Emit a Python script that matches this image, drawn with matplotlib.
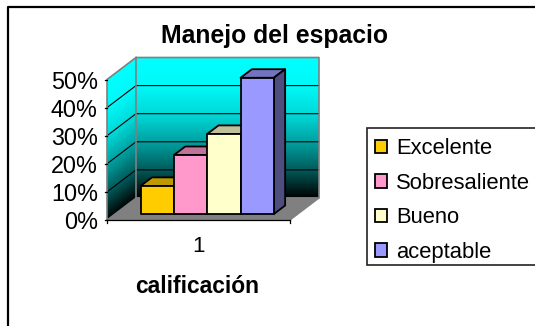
import matplotlib
matplotlib.use("Agg")
import matplotlib.pyplot as plt
from matplotlib.patches import Patch, Polygon, Rectangle
import numpy as np

plt.rcParams["font.family"] = ["Liberation Sans", "DejaVu Sans"]

names = ["Excelente", "Sobresaliente", "Bueno", "aceptable"]
values = [10, 21, 28.5, 48.5]
front_colors = ["#FFCC00", "#FF99CC", "#FFFFCC", "#9999FF"]
top_colors = ["#BF9900", "#BF7399", "#BFBF99", "#7373BF"]
side_colors = ["#806600", "#804D66", "#808066", "#4D4D80"]
yticks = [0, 10, 20, 30, 40, 50]
category = "1"

W, H = 535, 326
DEPTH_X = 29 / 183  # shift of the back wall, in x axis units
DEPTH_Y = 50 * 22 / 140.5  # same, in percent


def proj(x, y, d):
    return x + d * DEPTH_X, y + d * DEPTH_Y


fig = plt.figure(figsize=(W / 100, H / 100), dpi=100)
ax = fig.add_axes([107 / W, 1 - 220 / H, 183 / W, 140.5 / H])
ax.set_xlim(0, 1)
ax.set_ylim(0, 50)
ax.axis("off")

# walls, black at the bottom up to cyan
n = 141
vv = np.linspace(0, 50, n)
dd = np.array([0, 1])
cmap = matplotlib.colors.LinearSegmentedColormap.from_list(
    "wall", [(0, "#000000"), (0.2, "#005A5A"), (0.4, "#00A0A0"), (0.6, "#00D8D8"), (0.8, "#00F8F8"), (1, "#00FFFF")])
C = ((vv[:-1] + vv[1:]) / 2).reshape(-1, 1)
X = np.outer(np.ones(n), [0, 1]) + DEPTH_X
Y = np.outer(vv, [1, 1]) + DEPTH_Y
ax.pcolormesh(X, Y, C, cmap=cmap, vmin=0, vmax=50, shading="flat", clip_on=False, zorder=1)
X2 = np.outer(np.ones(n), dd) * DEPTH_X
Y2 = np.outer(vv, [1, 1]) + np.outer(np.ones(n), dd) * DEPTH_Y
ax.pcolormesh(X2, Y2, C, cmap=cmap, vmin=0, vmax=50, shading="flat", clip_on=False, zorder=1)

# floor
floor = [proj(0, 0, 0), proj(1, 0, 0), proj(1, 0, 1), proj(0, 0, 1)]
ax.add_patch(Polygon(floor, fc="#808080", ec="#808080", lw=1, clip_on=False, zorder=2))

# wall outline and gridlines
for t in yticks[1:-1]:
    xs, ys = zip(proj(0, t, 0), proj(0, t, 1), proj(1, t, 1))
    ax.plot(xs, ys, color="black", lw=0.8, clip_on=False, zorder=3)
xs, ys = zip(proj(0, 0, 0), proj(0, 50, 0), proj(0, 50, 1), proj(1, 50, 1), proj(1, 0, 1), proj(0, 0, 1), proj(0, 50, 1))
ax.plot(xs, ys, color="#808080", lw=1.2, clip_on=False, zorder=3)

# axis lines and tick marks
ax.plot([0, 1], [0, 0], color="black", lw=0.9, clip_on=False, zorder=4)
ax.plot([1, 1], [0, -1.2], color="black", lw=0.9, clip_on=False, zorder=4)
ax.plot([0, 0], [0, -1.2], color="black", lw=0.9, clip_on=False, zorder=4)
for t in yticks:
    ax.plot([-0.012, 0], [t, t], color="black", lw=0.9, clip_on=False, zorder=4)
    ax.text(-0.05, t - 1.0, f"{t}%", ha="right", va="center", fontsize=16.8, clip_on=False)

# bars, touching each other
bar_w = 33.3 / 183
bar_x0 = 0.141
d0, d1 = 0.27, 0.66
for i, v in enumerate(values):
    x0 = bar_x0 + i * bar_w
    x1 = x0 + bar_w
    z = 5 + i
    kw = dict(ec="black", lw=1.3, clip_on=False, zorder=z, joinstyle="round")
    top = [proj(x0, v, d0), proj(x1, v, d0), proj(x1, v, d1), proj(x0, v, d1)]
    side = [proj(x1, 0, d0), proj(x1, 0, d1), proj(x1, v, d1), proj(x1, v, d0)]
    front = [proj(x0, 0, d0), proj(x1, 0, d0), proj(x1, v, d0), proj(x0, v, d0)]
    ax.add_patch(Polygon(top, fc=top_colors[i], **kw))
    ax.add_patch(Polygon(side, fc=side_colors[i], **kw))
    ax.add_patch(Polygon(front, fc=front_colors[i], **kw))

ax.text(0.5, -9.6, category, ha="center", va="center", fontsize=16, clip_on=False)
ax.text(0.495, -23.8, "calificación", ha="center", va="center", fontsize=16.4, fontweight="bold", clip_on=False)
fig.text(275 / W, 1 - 36 / H, "Manejo del espacio", ha="center", va="center", fontsize=17.8, fontweight="bold")

# outer chart border, only top and left fall inside the picture
fig.add_artist(plt.Line2D([8 / W, 8 / W, 1], [0, 1 - 6.5 / H, 1 - 6.5 / H], color="black", lw=1.6))

# legend frame runs off the right edge
fig.add_artist(Rectangle((367 / W, 1 - 264.5 / H), 180 / W, 136.5 / H, transform=fig.transFigure,
                         fc="white", ec="#222222", lw=1.2, zorder=1))
handles = [Patch(fc=c, ec="black", lw=1.3) for c in front_colors]
leg = fig.legend(handles, names, loc="upper left", bbox_to_anchor=(367 / W, 1 - 130 / H), bbox_transform=fig.transFigure,
                 fontsize=15.8, frameon=False, borderaxespad=0,
                 handlelength=0.55, handleheight=0.55, handletextpad=0.4, labelspacing=0.615, borderpad=0.38)
leg.set_zorder(2)

fig.savefig("out.png", dpi=100)
